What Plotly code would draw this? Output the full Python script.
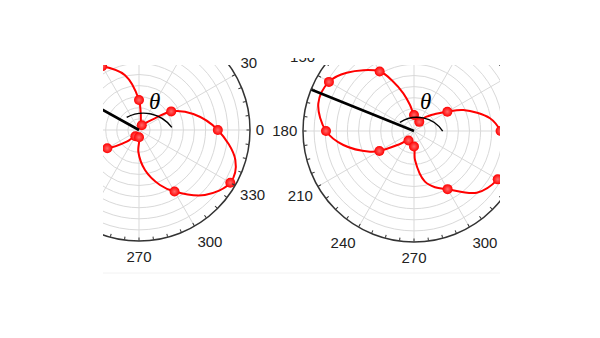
import numpy as np
import plotly.graph_objects as go

W, H = 600, 338

# ---- data ----
# sampled points (markers), every 30 degrees
theta_deg = [0, 30, 60, 90, 120, 150, 180, 210, 240, 270, 300, 330]
left_r = [0.71, 0.335, 0.05, 0.27, 0.663, 0.93, 0.70, 0.33, 0.065, 0.066, 0.64, 0.95]
right_r = [0.78, 0.347, 0.095, 0.144, 0.619, 0.885, 0.793, 0.36, 0.099, 0.14, 0.605, 0.871]

# drawn fitted curves, read along the red lines of the reference
left_curve_theta = [0, 16.4, 30, 36.2, 45, 60, 84, 90, 104.3, 120, 135.4, 150, 162.7, 180,
                    196.4, 210, 223.6, 240, 270, 268.2, 278.5, 290.9, 300, 315.4, 330,
                    342.7, 0]
left_curve_r = [0.71, 0.51, 0.335, 0.178, 0.098, 0.05, 0.151, 0.27, 0.51, 0.663, 0.83, 0.93,
                0.89, 0.70, 0.5, 0.33, 0.153, 0.065, 0.066, 0.196, 0.364, 0.53, 0.64, 0.834,
                0.95, 0.909, 0.71]
right_curve_theta = [0, 9.5, 23.1, 30, 39, 51.2, 60, 90, 98.7, 105.8, 112.8, 120, 139.1, 150,
                     163.9, 180, 191.2, 205.2, 210, 222.9, 240, 270, 272, 282.2, 290.5, 300,
                     315.5, 330, 344, 0]
right_curve_r = [0.78, 0.694, 0.483, 0.347, 0.243, 0.158, 0.095, 0.144, 0.237, 0.353, 0.482,
                 0.619, 0.802, 0.885, 0.897, 0.793, 0.649, 0.438, 0.36, 0.172, 0.099, 0.14,
                 0.261, 0.467, 0.541, 0.605, 0.793, 0.871, 0.897, 0.78]

left_dir_angle = 151
right_dir_angle = 158
dir_r = [0, 1.0]
tick_vals = [0, 30, 60, 90, 120, 150, 180, 210, 240, 270, 300, 330]
tick_text = ["0", "30", "60", "90", "120", "150", "180", "210", "240", "270", "300", "330"]
left_top_tick = 30      # label drawn by its own overlay (sits at the panel's top edge)
right_top_tick = 150

RED = "#ff0000"

fig = go.Figure()

panels = (
    ("polar", left_curve_theta, left_curve_r, left_r, left_dir_angle),
    ("polar2", right_curve_theta, right_curve_r, right_r, right_dir_angle),
)
for sub, ct, cr, rr, ang in panels:
    fig.add_trace(go.Scatterpolar(
        theta=ct, r=cr, mode="lines",
        line=dict(color=RED, width=2, shape="spline", smoothing=1),
        subplot=sub, hoverinfo="skip"))
    fig.add_trace(go.Scatterpolar(
        theta=theta_deg, r=rr, mode="markers",
        marker=dict(size=10, color=RED,
                    gradient=dict(type="radial", color="#ff6a6a")),
        subplot=sub))
    fig.add_trace(go.Scatterpolar(
        theta=[ang, ang], r=dir_r, mode="lines",
        line=dict(color="black", width=2.6), subplot=sub, hoverinfo="skip"))

# invisible traces so that the overlay subplots are drawn
for sub in ("polar3", "polar4", "polar5", "polar6"):
    fig.add_trace(go.Scatterpolar(theta=[0], r=[0], mode="markers",
                                  marker=dict(opacity=0), subplot=sub,
                                  hoverinfo="skip"))


def px_dom(cx, cy, R):
    return dict(x=[(cx - R) / W, (cx + R) / W],
                y=[1 - (cy + R) / H, 1 - (cy - R) / H])


GRID = "#d9d9d9"
TICKFONT = dict(family="Liberation Sans, Arial", size=15, color="#222222")


def main_ang(skip):
    texts = ["" if v == skip else t for v, t in zip(tick_vals, tick_text)]
    return dict(direction="counterclockwise", rotation=0,
                tickmode="array", tickvals=tick_vals, ticktext=texts,
                showgrid=True, gridcolor=GRID, gridwidth=1,
                showline=True, linecolor="#333333", linewidth=1.5,
                ticks="outside", ticklen=2, tickcolor="rgba(0,0,0,0)",
                tickfont=TICKFONT)


def label_ang(val):
    return dict(direction="counterclockwise", rotation=0,
                tickmode="array", tickvals=[val], ticktext=[tick_text[tick_vals.index(val)]],
                showgrid=False, showline=False,
                ticks="outside", ticklen=2, tickcolor="rgba(0,0,0,0)",
                tickfont=TICKFONT)


main_rad = dict(range=[0, 1], tickmode="linear", tick0=0, dtick=0.1,
                showgrid=True, gridcolor=GRID, gridwidth=1,
                showticklabels=False, showline=False, ticks="")
tick_ang = dict(direction="counterclockwise", rotation=0,
                tickmode="linear", tick0=0, dtick=7.5,
                ticks="inside", ticklen=3, tickcolor="#333333", tickwidth=1,
                showticklabels=False, showgrid=False, showline=False)
hidden_rad = dict(range=[0, 1], visible=False)
TR = "rgba(0,0,0,0)"

dl = px_dom(139, 130, 111)
dr = px_dom(414, 131, 111)

fig.update_layout(
    width=W, height=H, margin=dict(l=0, r=0, t=0, b=0),
    paper_bgcolor="white", showlegend=False,
    polar=dict(domain=dl, bgcolor=TR, angularaxis=main_ang(left_top_tick), radialaxis=main_rad),
    polar2=dict(domain=dr, bgcolor=TR, angularaxis=main_ang(right_top_tick), radialaxis=main_rad),
    polar3=dict(domain=dl, bgcolor=TR, angularaxis=tick_ang, radialaxis=hidden_rad),
    polar4=dict(domain=dr, bgcolor=TR, angularaxis=tick_ang, radialaxis=hidden_rad),
    # label-only overlays for the two labels clipped by the panel's top edge
    polar5=dict(domain=px_dom(139.5, 123, 111), bgcolor=TR,
                angularaxis=label_ang(left_top_tick), radialaxis=hidden_rad),
    polar6=dict(domain=px_dom(416, 117.5, 111), bgcolor=TR,
                angularaxis=label_ang(right_top_tick), radialaxis=hidden_rad),
)


# ---- angle-indicator arcs (decoration) ----
def arc_path(cx, cy, R, a0, a1):
    a0r, a1r = np.radians(a0), np.radians(a1)
    k = 4 / 3 * np.tan(abs(a0r - a1r) / 4) * R
    p0 = (cx + R * np.cos(a0r), cy - R * np.sin(a0r))
    p3 = (cx + R * np.cos(a1r), cy - R * np.sin(a1r))
    p1 = (p0[0] + k * np.sin(a0r), p0[1] + k * np.cos(a0r))
    p2 = (p3[0] - k * np.sin(a1r), p3[1] - k * np.cos(a1r))
    f = lambda p: f"{p[0] / W:.5f},{1 - p[1] / H:.5f}"
    return f"M {f(p0)} C {f(p1)} {f(p2)} {f(p3)}"


shapes = [
    dict(type="path", xref="paper", yref="paper",
         path=arc_path(143.4, 148.8, 35.6, 118, 37),
         line=dict(color="black", width=1.4), layer="above"),
    dict(type="path", xref="paper", yref="paper",
         path=arc_path(417, 148, 30.7, 123.7, 33.2),
         line=dict(color="black", width=1.4), layer="above"),
]

# ---- crop masks (the reference is a cropped panel) ----
CL, CR, CT, CB = 103, 500, 65, 273
TXT_TOP = 58
masks = [(0, CL, 0, H), (CR, W, 0, H), (0, W, 0, TXT_TOP), (0, W, CB, H),
         (0, 236, TXT_TOP, CT), (262, 288, TXT_TOP, CT), (318, W, TXT_TOP, CT)]
for x0, x1, y0, y1 in masks:
    shapes.append(dict(type="rect", xref="paper", yref="paper",
                       x0=x0 / W, x1=x1 / W, y0=1 - y1 / H, y1=1 - y0 / H,
                       fillcolor="white", line=dict(width=0), layer="above"))
shapes.append(dict(type="line", xref="paper", yref="paper",
                   x0=CL / W, x1=CR / W, y0=1 - CB / H, y1=1 - CB / H,
                   line=dict(color="#f2f2f2", width=1), layer="above"))
fig.update_layout(shapes=shapes)

for x, y in ((154, 101), (425.5, 101)):
    fig.add_annotation(x=x / W, y=1 - y / H, xref="paper", yref="paper",
                       text="<i>θ</i>", showarrow=False,
                       font=dict(family="Liberation Serif, Times New Roman", size=23, color="black"),
                       xanchor="center", yanchor="middle")

fig.write_html("out.html")
